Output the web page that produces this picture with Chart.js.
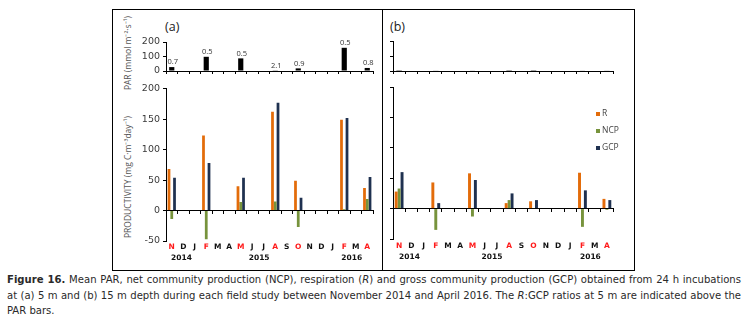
<!DOCTYPE html>
<html>
<head>
<meta charset="utf-8">
<script src="https://cdn.jsdelivr.net/npm/chart.js@4.4.0/dist/chart.umd.min.js"></script>
<style>
body { margin: 0; background: #fff; width: 746px; height: 322px; overflow: hidden; position: relative; }
#frame { position: absolute; left: 112px; top: 9px; width: 521px; height: 260px; border: 1px solid #000; }
#divider { position: absolute; left: 382px; top: 9px; width: 1px; height: 262px; background: #000; }
canvas { position: absolute; }
.panel { position: absolute; font-family: "Open Sans", sans-serif; font-size: 12.5px; color: #222; line-height: 14px; }
.ytitle { position: absolute; white-space: nowrap; font-family: "Open Sans", sans-serif; font-size: 8.5px; color: #555;
          transform: translate(-50%, -50%) rotate(-90deg); }
#caption { position: absolute; left: 7px; top: 272px; width: 734px; color: #2a2a2a;
           font-family: "Liberation Sans Narrow", "DejaVu Sans Condensed", sans-serif; font-size: 11.5px; line-height: 15.5px; }
#caption div { white-space: nowrap; }
#caption .j { text-align: justify; text-align-last: justify; }
</style>
</head>
<body>
<div id="frame"></div>
<div id="divider"></div>
<div class="panel" style="left:165px;top:20px;">(a)</div>
<div class="panel" style="left:390px;top:20px;">(b)</div>
<div class="ytitle" style="left:127px;top:53px;">PAR (mmol m⁻²·s⁻¹)</div>
<div class="ytitle" style="left:127px;top:177px;">PRODUCTIVITY (mg C·m⁻³day⁻¹)</div>

<canvas id="parA" width="270" height="70" style="left:112px;top:10px;"></canvas>
<canvas id="prodA" width="270" height="185" style="left:112px;top:80px;"></canvas>
<canvas id="parB" width="250" height="70" style="left:383px;top:10px;"></canvas>
<canvas id="prodB" width="250" height="185" style="left:383px;top:80px;"></canvas>

<div id="caption">
  <div class="j"><b>Figure 16.</b> Mean PAR, net community production (NCP), respiration (<i>R</i>) and gross community production (GCP) obtained from 24 h incubations</div>
  <div class="j">at (a) 5 m and (b) 15 m depth during each field study between November 2014 and April 2016. The <i>R</i>:GCP ratios at 5 m are indicated above the</div>
  <div>PAR bars.</div>
</div>

<script>
// months Nov 2014 .. Apr 2016, red = sampled
const months = ["N", "D", "J", "F", "M", "A", "M", "J", "J", "A", "S", "O", "N", "D", "J", "F", "M", "A"];
const sampled = [1, 0, 0, 1, 0, 0, 1, 0, 0, 1, 0, 1, 0, 0, 0, 1, 0, 1];
const years = ["2014", "2015", "2016"];
const yearAt = [0.85, 7.6, 15.65]; // category index under which the year sits

// (a) 5 m
const parA = [27, null, null, 98, null, null, 87, null, null, 2, null, 18, null, null, null, 160, null, 21];
const ratioA = ["0.7", null, null, "0.5", null, null, "0.5", null, null, "2.1", null, "0.9", null, null, null, "0.5", null, "0.8"];
const rA = [68, null, null, 123, null, null, 40, null, null, 162, null, 49, null, null, null, 149, null, 37];
const ncpA = [-14, null, null, -47, null, null, 14, null, null, 15, null, -27, null, null, null, 2, null, 19];
const gcpA = [54, null, null, 78, null, null, 54, null, null, 177, null, 21, null, null, null, 152, null, 55];

// (b) 15 m
const parB = [1, null, null, 4, null, null, 4, null, null, 1, null, 1, null, null, null, 4, null, 4];
const rB = [28, null, null, 43, null, null, 58, null, null, 9, null, 12, null, null, null, 59, null, 16];
const ncpB = [33, null, null, -35, null, null, -13, null, null, 14, null, 1, null, null, null, -30, null, -2];
const gcpB = [60, null, null, 9, null, null, 47, null, null, 25, null, 14, null, null, null, 30, null, 14];

const seriesNames = ["R", "NCP", "GCP"];
const seriesColors = ["#E36C0A", "#77933C", "#1F3150"];

const tickFont = "'DejaVu Sans', sans-serif";
const labelFont = "'Open Sans', sans-serif";

function yAxis(min, max, step, width, showLabels) {
    return {
        min: min,
        max: max,
        ticks: { display: showLabels, stepSize: step, color: "#3a3a3a", padding: 3, font: { family: tickFont, size: 9.5 } },
        grid: { drawOnChartArea: false, tickLength: 3, color: "#000" },
        border: { color: "#000" },
        afterFit: (s) => { s.width = width; }
    };
}

// year row under the month letters
const yearLabels = {
    id: "yearLabels",
    afterDraw(chart, args, opts) {
        const ctx = chart.ctx;
        const x = chart.scales.x;
        ctx.save();
        ctx.font = "bold 7.5px " + tickFont;
        ctx.fillStyle = "#111";
        ctx.textAlign = "center";
        ctx.textBaseline = "middle";
        years.forEach((yr, i) => ctx.fillText(yr, x.getPixelForValue(yearAt[i]), x.top + opts.dy));
        ctx.restore();
    }
};

// R:GCP ratios above the PAR bars
const ratioLabels = {
    id: "ratioLabels",
    afterDatasetsDraw(chart) {
        const ctx = chart.ctx;
        const meta = chart.getDatasetMeta(0);
        ctx.save();
        ctx.font = "7.5px " + labelFont;
        ctx.fillStyle = "#333";
        ctx.textAlign = "center";
        ctx.textBaseline = "bottom";
        meta.data.forEach((bar, i) => {
            if (ratioA[i]) ctx.fillText(ratioA[i], bar.x + 1, bar.y - 1);
        });
        ctx.restore();
    }
};

// small legend inside panel (b)
const sideLegend = {
    id: "sideLegend",
    afterDraw(chart) {
        const ctx = chart.ctx;
        const area = chart.chartArea;
        ctx.save();
        ctx.font = "8.5px " + labelFont;
        ctx.textBaseline = "middle";
        chart.data.datasets.forEach((ds, i) => {
            const x = area.right - 17;
            const y = area.top + 27 + i * 17;
            ctx.fillStyle = ds.backgroundColor;
            ctx.fillRect(x, y - 2, 4, 4);
            ctx.fillStyle = "#444";
            ctx.fillText(ds.label, x + 6, y);
        });
        ctx.restore();
    }
};

function parChart(id, values, yWidth, showLabels, padding, extra) {
    return new Chart(document.getElementById(id), {
        type: "bar",
        data: {
            labels: months,
            datasets: [{ label: "PAR", data: values, backgroundColor: "#000", categoryPercentage: 0.45, barPercentage: 1 }]
        },
        options: {
            responsive: false,
            animation: false,
            layout: { padding: padding },
            plugins: { legend: { display: false }, tooltip: { enabled: false } },
            scales: {
                x: {
                    offset: true,
                    grid: { offset: true, drawOnChartArea: false, tickLength: 3, color: "#000" },
                    ticks: { display: false },
                    border: { color: "#000" },
                    afterFit: (s) => { s.height = 6; }
                },
                y: yAxis(0, 200, 100, yWidth, showLabels)
            }
        },
        plugins: extra
    });
}

function prodChart(id, r, ncp, gcp, yWidth, showLabels, padding, tickPad, yearDy, extra) {
    const sets = [r, ncp, gcp].map((d, i) => ({
        label: seriesNames[i],
        data: d,
        xAxisID: "x",
        backgroundColor: seriesColors[i],
        categoryPercentage: 0.72,
        barPercentage: 1
    }));
    return new Chart(document.getElementById(id), {
        type: "bar",
        data: { labels: months, datasets: sets },
        options: {
            responsive: false,
            animation: false,
            layout: { padding: padding },
            plugins: { legend: { display: false }, tooltip: { enabled: false }, yearLabels: { dy: yearDy } },
            scales: {
                x: {
                    offset: true,
                    grid: { display: false, drawTicks: false },
                    border: { display: false },
                    ticks: {
                        autoSkip: false,
                        maxRotation: 0,
                        padding: tickPad,
                        color: (c) => (sampled[c.index] ? "#ff1a1a" : "#111"),
                        font: { family: tickFont, size: 7.5, weight: "bold" }
                    },
                    afterFit: (s) => { s.height = 24; }
                },
                x0: {
                    type: "category",
                    axis: "x",
                    labels: months,
                    position: { y: 0 },
                    offset: true,
                    grid: { offset: true, drawOnChartArea: false, tickLength: 3, color: "#000" },
                    ticks: { display: false },
                    border: { color: "#000" }
                },
                y: yAxis(-50, 200, 50, yWidth, showLabels)
            }
        },
        plugins: [yearLabels].concat(extra)
    });
}

parChart("parA", parA, 54, true, { top: 32, right: 9, bottom: 3, left: 0 }, [ratioLabels]);
prodChart("prodA", rA, ncpA, gcpA, 54, true, { top: 7, right: 9, bottom: 0, left: 0 }, 2, 17, []);
parChart("parB", parB, 10, false, { top: 31, right: 20, bottom: 3, left: 0 }, []);
prodChart("prodB", rB, ncpB, gcpB, 10, false, { top: 7, right: 20, bottom: 2, left: 0 }, 3, 18, [sideLegend]);

// shrink the caption font until the justified lines fit the box
const caption = document.getElementById("caption");
const capLines = Array.from(caption.querySelectorAll(".j"));
let capSize = 11.5;
while (capSize > 8 && capLines.some((d) => d.scrollWidth > 734)) {
    capSize -= 0.1;
    caption.style.fontSize = capSize + "px";
}
</script>
</body>
</html>
